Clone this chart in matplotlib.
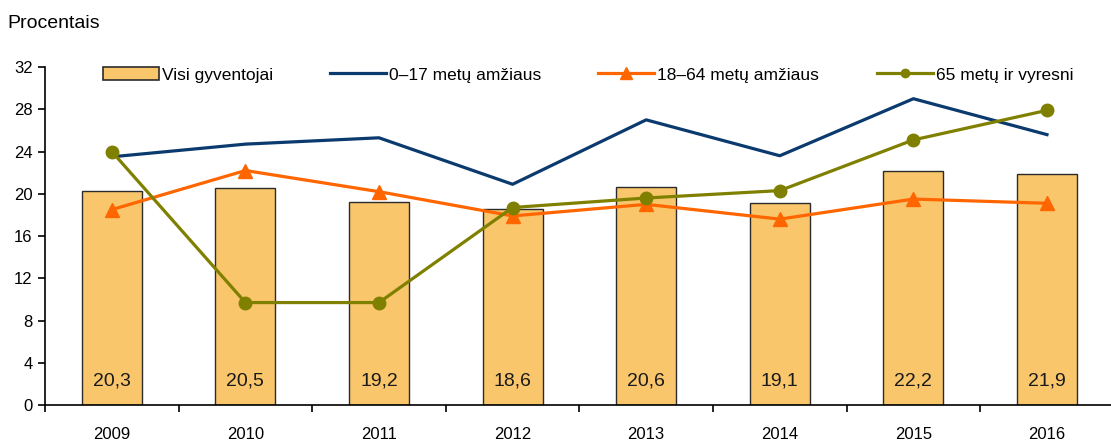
import numpy as np
import matplotlib
matplotlib.use('Agg')
import matplotlib.pyplot as plt
from matplotlib.patches import Patch
from matplotlib.lines import Line2D

# Duomenys (procentais)
years = ['2009', '2010', '2011', '2012', '2013', '2014', '2015', '2016']
visi = [20.3, 20.5, 19.2, 18.6, 20.6, 19.1, 22.2, 21.9]
vaikai = [23.5, 24.7, 25.3, 20.9, 27.0, 23.6, 29.0, 25.6]
darbingi = [18.5, 22.2, 20.2, 17.9, 19.0, 17.6, 19.5, 19.1]
senjorai = [24.0, 9.7, 9.7, 18.7, 19.6, 20.3, 25.1, 27.9]
yticks = list(range(0, 33, 4))

c_bar = '#F9C66B'
c_blue = '#0B3A6E'
c_orange = '#FF6600'
c_olive = '#808000'

plt.rcParams['font.family'] = ['Liberation Sans', 'DejaVu Sans']

fig = plt.figure(figsize=(11.11, 4.41), dpi=100)
ax = fig.add_axes([0.0405, 0.0816, 0.962, 0.7664])

x = np.arange(len(years))
ax.bar(x, visi, width=0.45, color=c_bar, edgecolor='#2b2b2b', linewidth=1.0, zorder=2)
ax.plot(x, vaikai, color=c_blue, linewidth=2.3, zorder=3)
ax.plot(x, darbingi, color=c_orange, linewidth=2.3, marker='^', markersize=10, zorder=4)
ax.plot(x, senjorai, color=c_olive, linewidth=2.3, marker='o', markersize=9, zorder=5)

for xi, v in zip(x, visi):
    ax.text(xi, 2.3, f'{v:.1f}'.replace('.', ','), ha='center', va='center',
            fontsize=14, color='#1a1a1a', zorder=6)

ax.set_xlim(-0.5, len(years) - 0.5)
ax.set_ylim(0, 32)
ax.set_yticks(yticks)
ax.set_xticks(x)
ax.set_xticklabels(years)
ax.set_xticks(np.arange(-0.5, len(years), 1.0), minor=True)
ax.tick_params(axis='x', which='major', length=0, pad=16, labelsize=12)
ax.tick_params(axis='x', which='minor', length=5, width=1.2, direction='out')
ax.tick_params(axis='y', length=5, width=1.2, labelsize=12, pad=4)
for s in ('top', 'right'):
    ax.spines[s].set_visible(False)
for s in ('left', 'bottom'):
    ax.spines[s].set_linewidth(1.2)

# legenda - atskiri įrašai, kad sutaptų padėtys
entries = [
    (Patch(facecolor=c_bar, edgecolor='#2b2b2b', linewidth=1.2), 'Visi gyventojai', 103),
    (Line2D([], [], color=c_blue, linewidth=2.3), '0–17 metų amžiaus', 330),
    (Line2D([], [], color=c_orange, linewidth=2.3, marker='^', markersize=8), '18–64 metų amžiaus', 598),
    (Line2D([], [], color=c_olive, linewidth=2.3, marker='o', markersize=6), '65 metų ir vyresni', 877),
]
for h, lab, px in entries:
    fig.legend([h], [lab], loc='center left', bbox_to_anchor=(px / 1111, 1 - 75 / 441),
               frameon=False, fontsize=12.5, handlelength=3.2, handleheight=0.8,
               handletextpad=0.2, borderpad=0, borderaxespad=0)

fig.text(0.007, 1 - 24 / 441, 'Procentais', fontsize=14, ha='left', va='center')

fig.savefig('out.png', dpi=100)
